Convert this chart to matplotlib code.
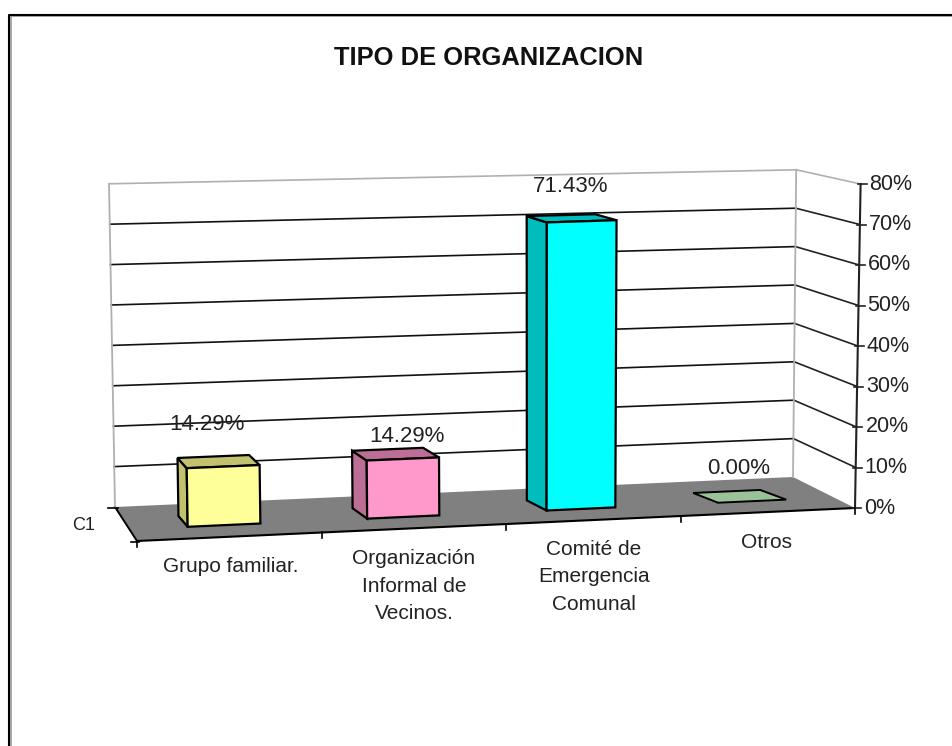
import numpy as np
import matplotlib
matplotlib.use("Agg")
import matplotlib.pyplot as plt
from matplotlib.patches import Polygon

title = "TIPO DE ORGANIZACION"
categories = ["Grupo familiar.", "Organización\nInformal de\nVecinos.", "Comité de\nEmergencia\nComunal", "Otros"]
values = [14.29, 14.29, 71.43, 0.00]
value_labels = ["14.29%", "14.29%", "71.43%", "0.00%"]
y_ticks = [0, 10, 20, 30, 40, 50, 60, 70, 80]
y_tick_labels = ["0%", "10%", "20%", "30%", "40%", "50%", "60%", "70%", "80%"]
series_name = "C1"
front_colors = ["#FFFF99", "#FF99CC", "#00FFFF", "#99C299"]
side_colors = ["#C2C26E", "#BD6E96", "#00BDBD", "#99C299"]

plt.rcParams["font.family"] = ["Liberation Sans", "DejaVu Sans"]
fig = plt.figure(figsize=(9.52, 7.46), dpi=100)
ax = fig.add_axes([0, 0, 1, 1])
ax.set_xlim(0, 952)
ax.set_ylim(746, 0)
ax.axis("off")

# perspective frame: floor corners and height scale (px per percent)
FL, FR, BL, BR = map(np.array, [(137., 541.), (855., 508.), (115., 507.), (793., 477.)])
S_FL, S_FR, S_BL, S_BR = 4.15, 4.05, 4.04, 3.84
T_FL, T_FR, T_BL, T_BR = -.08, .07, -.075, .04


def proj(u, d, v):
    """u: category position 0..4, d: depth 0 front..1 back, v: percent"""
    f = np.interp(u, [0, 1, 2, 3, 4], [0, .258, .514, .758, 1])
    p = (1-f)*(1-d)*FL + f*(1-d)*FR + (1-f)*d*BL + f*d*BR
    s = (1-f)*(1-d)*S_FL + f*(1-d)*S_FR + (1-f)*d*S_BL + f*d*S_BR
    t = (1-f)*(1-d)*T_FL + f*(1-d)*T_FR + (1-f)*d*T_BL + f*d*T_BR
    return (p[0] + t*v, p[1] - s*v)


# frame: top and left edges only, with a soft grey inner edge
ax.plot([10.5, 10.5, 952], [746, 16, 16], color="#999999", lw=1.2, zorder=0)
ax.plot([9, 9, 952], [746, 14.8, 14.8], color="black", lw=1.5, zorder=0.5)

# floor
ax.add_patch(Polygon([FL, FR, BR, BL], fc="#808080", ec="none", zorder=1))
ax.plot(*zip(FL, FR), color="black", lw=1.5, zorder=2)
ax.plot(*zip(FL, BL), color="black", lw=1.4, zorder=2)

# gridlines
for v in y_ticks:
    col = "#b0b0b0" if v == 80 else "#111111"
    col2 = "#b0b0b0" if v == 80 else "#222222"
    if v > 0:
        pts = [proj(0, 1, v), proj(4, 1, v)]
        ax.plot(*zip(*pts), color=col, lw=1.2, zorder=2)
        pts = [proj(4, 1, v), proj(4, 0, v)]
        ax.plot(*zip(*pts), color=col2, lw=1.2, zorder=2)
# back wall verticals
ax.plot(*zip(proj(0, 1, 0), proj(0, 1, 80)), color="#b0b0b0", lw=1.3, zorder=2)
ax.plot(*zip(proj(4, 1, 0), proj(4, 1, 80)), color="#b0b0b0", lw=1.3, zorder=2)

# value axis
ax.plot(*zip(proj(4, 0, 0), proj(4, 0, 80)), color="#222222", lw=1.5, zorder=2)
for v, lab in zip(y_ticks, y_tick_labels):
    x, y = proj(4, 0, v)
    ax.plot([x-3, x+6], [y, y], color="#222222", lw=1.2, zorder=2)
    ax.text(x+9, y, lab, ha="left", va="center", fontsize=15.5, color="#222222", zorder=5)

# category ticks and labels
for i in range(5):
    x, y = proj(i, 0, 0)
    ax.plot([x, x], [y, y+6], color="black", lw=1.2, zorder=2)
ax.plot([131, 139], [541.5, 541.5], color="black", lw=1.2, zorder=2)
ax.plot([108, 118], [507.5, 507.5], color="black", lw=1.2, zorder=2)
label_pos = [(231, 567), (414, 586), (594, 577), (767, 542)]
for c, (x, y) in zip(categories, label_pos):
    ax.text(x, y, c, ha="center", va="center", multialignment="center",
            fontsize=15, linespacing=1.56, color="#222222", zorder=5)
ax.text(84, 525, series_name, ha="center", va="center", fontsize=13, color="#222222")

# bars
centers = [.52, 1.51, 2.52, 3.52]
hw, d0, d1 = .2, .34, .66
lab_pos = [(207, 424), (407, 437), (571, 187), (739, 468)]
for c, v, lab, fc, sc, (lx, ly) in zip(centers, values, value_labels, front_colors, side_colors, lab_pos):
    l, r = c-hw, c+hw
    du = -.012*c
    if v == 0:
        ax.add_patch(Polygon([proj(l, d0, 0), proj(r, d0, 0), proj(r+du, d1, 0), proj(l+du, d1, 0)],
                             fc=fc, ec="black", lw=1.4, zorder=3))
    else:
        ax.add_patch(Polygon([proj(l, d0, 0), proj(l+du, d1, 0), proj(l+du, d1, v), proj(l, d0, v)],
                             fc=sc, ec="black", lw=1.6, zorder=3))
        ax.add_patch(Polygon([proj(l, d0, v), proj(r, d0, v), proj(r+du, d1, v), proj(l+du, d1, v)],
                             fc=sc, ec="black", lw=1.6, zorder=3))
        ax.add_patch(Polygon([proj(l, d0, 0), proj(r, d0, 0), proj(r, d0, v), proj(l, d0, v)],
                             fc=fc, ec="black", lw=1.6, zorder=4))
    ax.text(lx, ly, lab, ha="center", va="center", fontsize=16, color="#222222", zorder=5)

ax.text(488.5, 58, title, ha="center", va="center", fontsize=18.4, fontweight="bold", color="#111111")

fig.savefig("out.png", dpi=100)
